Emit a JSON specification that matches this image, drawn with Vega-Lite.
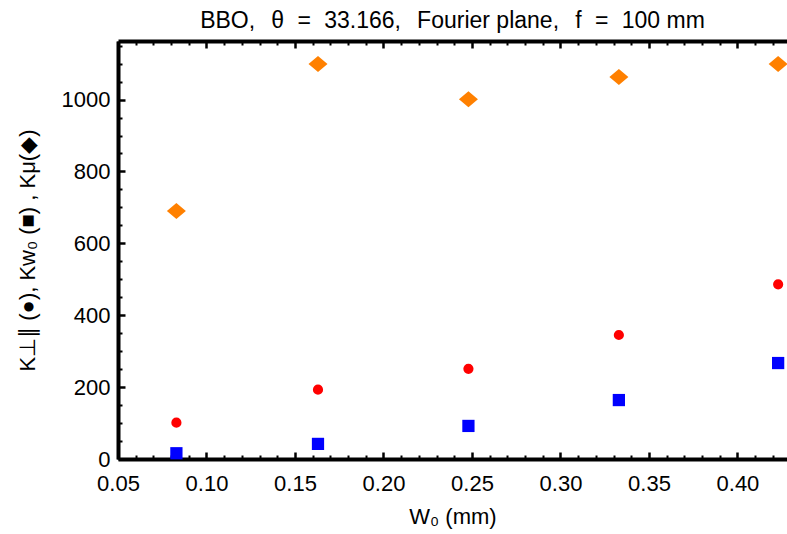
{
  "$schema": "https://vega.github.io/schema/vega-lite/v6.json",
  "width": 669,
  "height": 418,
  "autosize": {"type": "none"},
  "padding": {"left": 118, "top": 41, "right": 0, "bottom": 75},
  "background": "white",
  "title": {"text": "BBO,\u2002\u2009θ\u2002\u200a=\u2002\u200a33.166,\u2002\u2009Fourier plane,\u2002\u2009f\u2002\u200a=\u2002\u200a100 mm", "font": "Liberation Sans", "fontSize": 23, "fontWeight": "normal", "color": "black", "anchor": "middle", "offset": 7},
  "config": {
    "view": {"stroke": null},
    "axis": {"labelFont": "Liberation Sans", "titleFont": "Liberation Sans", "labelFontSize": 22, "titleFontSize": 22, "titleFontWeight": "normal", "labelColor": "black", "titleColor": "black", "domainColor": "black", "tickColor": "black", "grid": false, "labelFlush": false, "labelOverlap": false}
  },
  "data": {"values": [
    {"w": 0.083, "k": 690, "s": "mu"},
    {"w": 0.163, "k": 1099, "s": "mu"},
    {"w": 0.248, "k": 1001, "s": "mu"},
    {"w": 0.333, "k": 1063, "s": "mu"},
    {"w": 0.423, "k": 1099, "s": "mu"},
    {"w": 0.083, "k": 101, "s": "perp"},
    {"w": 0.163, "k": 193, "s": "perp"},
    {"w": 0.248, "k": 251, "s": "perp"},
    {"w": 0.333, "k": 345, "s": "perp"},
    {"w": 0.423, "k": 486, "s": "perp"},
    {"w": 0.083, "k": 16, "s": "w0"},
    {"w": 0.163, "k": 42, "s": "w0"},
    {"w": 0.248, "k": 92, "s": "w0"},
    {"w": 0.333, "k": 164, "s": "w0"},
    {"w": 0.423, "k": 267, "s": "w0"}
  ]},
  "resolve": {"axis": {"x": "independent", "y": "independent"}},
  "layer": [
    {
      "transform": [{"filter": "datum.s === 'perp'"}],
      "mark": {"type": "point", "shape": "circle", "filled": true, "opacity": 1, "color": "#FF0000", "size": 104},
      "encoding": {
        "x": {"field": "w", "type": "quantitative", "scale": {"domain": [0.05, 0.428], "nice": false, "zero": false},
          "axis": {"orient": "bottom", "values": [0.06, 0.07, 0.08, 0.09, 0.11, 0.12, 0.13, 0.14, 0.16, 0.17, 0.18, 0.19, 0.21, 0.22, 0.23, 0.24, 0.26, 0.27, 0.28, 0.29, 0.31, 0.32, 0.33, 0.34, 0.36, 0.37, 0.38, 0.39, 0.41, 0.42], "labels": false, "domain": false, "title": null, "tickSize": -4, "tickWidth": 2}},
        "y": {"field": "k", "type": "quantitative", "scale": {"domain": [0, 1163], "nice": false, "zero": false},
          "axis": {"orient": "left", "values": [50, 100, 150, 250, 300, 350, 450, 500, 550, 650, 700, 750, 850, 900, 950, 1050, 1100, 1150], "labels": false, "domain": false, "title": null, "tickSize": -4, "tickWidth": 2}}
      }
    },
    {
      "transform": [{"filter": "datum.s === 'w0'"}],
      "mark": {"type": "point", "shape": "square", "filled": true, "opacity": 1, "color": "#0000FF", "size": 150},
      "encoding": {
        "x": {"field": "w", "type": "quantitative", "scale": {"domain": [0.05, 0.428], "nice": false, "zero": false},
          "axis": {"orient": "top", "values": [0.06, 0.07, 0.08, 0.09, 0.11, 0.12, 0.13, 0.14, 0.16, 0.17, 0.18, 0.19, 0.21, 0.22, 0.23, 0.24, 0.26, 0.27, 0.28, 0.29, 0.31, 0.32, 0.33, 0.34, 0.36, 0.37, 0.38, 0.39, 0.41, 0.42], "labels": false, "domain": false, "title": null, "tickSize": -4, "tickWidth": 2}},
        "y": {"field": "k", "type": "quantitative", "scale": {"domain": [0, 1163], "nice": false, "zero": false}, "axis": null}
      }
    },
    {
      "transform": [{"filter": "datum.s === 'mu'"}],
      "mark": {"type": "point", "shape": "M-1,0L0,-0.84L1,0L0,0.84Z", "filled": true, "opacity": 1, "color": "#FF8000", "size": 361},
      "encoding": {
        "x": {"field": "w", "type": "quantitative", "scale": {"domain": [0.05, 0.428], "nice": false, "zero": false},
          "axis": {"orient": "bottom", "values": [0.05, 0.1, 0.15, 0.2, 0.25, 0.3, 0.35, 0.4], "format": ".2f", "title": "W₀ (mm)", "titlePadding": 12, "labelPadding": 21, "tickSize": -7, "tickWidth": 2.5, "domainWidth": 4}},
        "y": {"field": "k", "type": "quantitative", "scale": {"domain": [0, 1163], "nice": false, "zero": false},
          "axis": {"orient": "left", "values": [0, 200, 400, 600, 800, 1000], "format": "d", "title": "K⊥∥ (●), Kw₀ (■) , Kμ(◆)", "titlePadding": 22, "labelPadding": 15, "tickSize": -7, "tickWidth": 2.5, "domainWidth": 4}}
      }
    },
    {
      "transform": [{"filter": "datum.s === 'mu'"}],
      "mark": {"type": "point", "filled": true, "opacity": 0, "size": 1},
      "encoding": {
        "x": {"field": "w", "type": "quantitative", "scale": {"domain": [0.05, 0.428], "nice": false, "zero": false},
          "axis": {"orient": "top", "values": [0.05, 0.1, 0.15, 0.2, 0.25, 0.3, 0.35, 0.4], "labels": false, "title": null, "tickSize": -7, "tickWidth": 2.5, "domainWidth": 4}},
        "y": {"field": "k", "type": "quantitative", "scale": {"domain": [0, 1163], "nice": false, "zero": false}, "axis": null}
      }
    }
  ]
}
